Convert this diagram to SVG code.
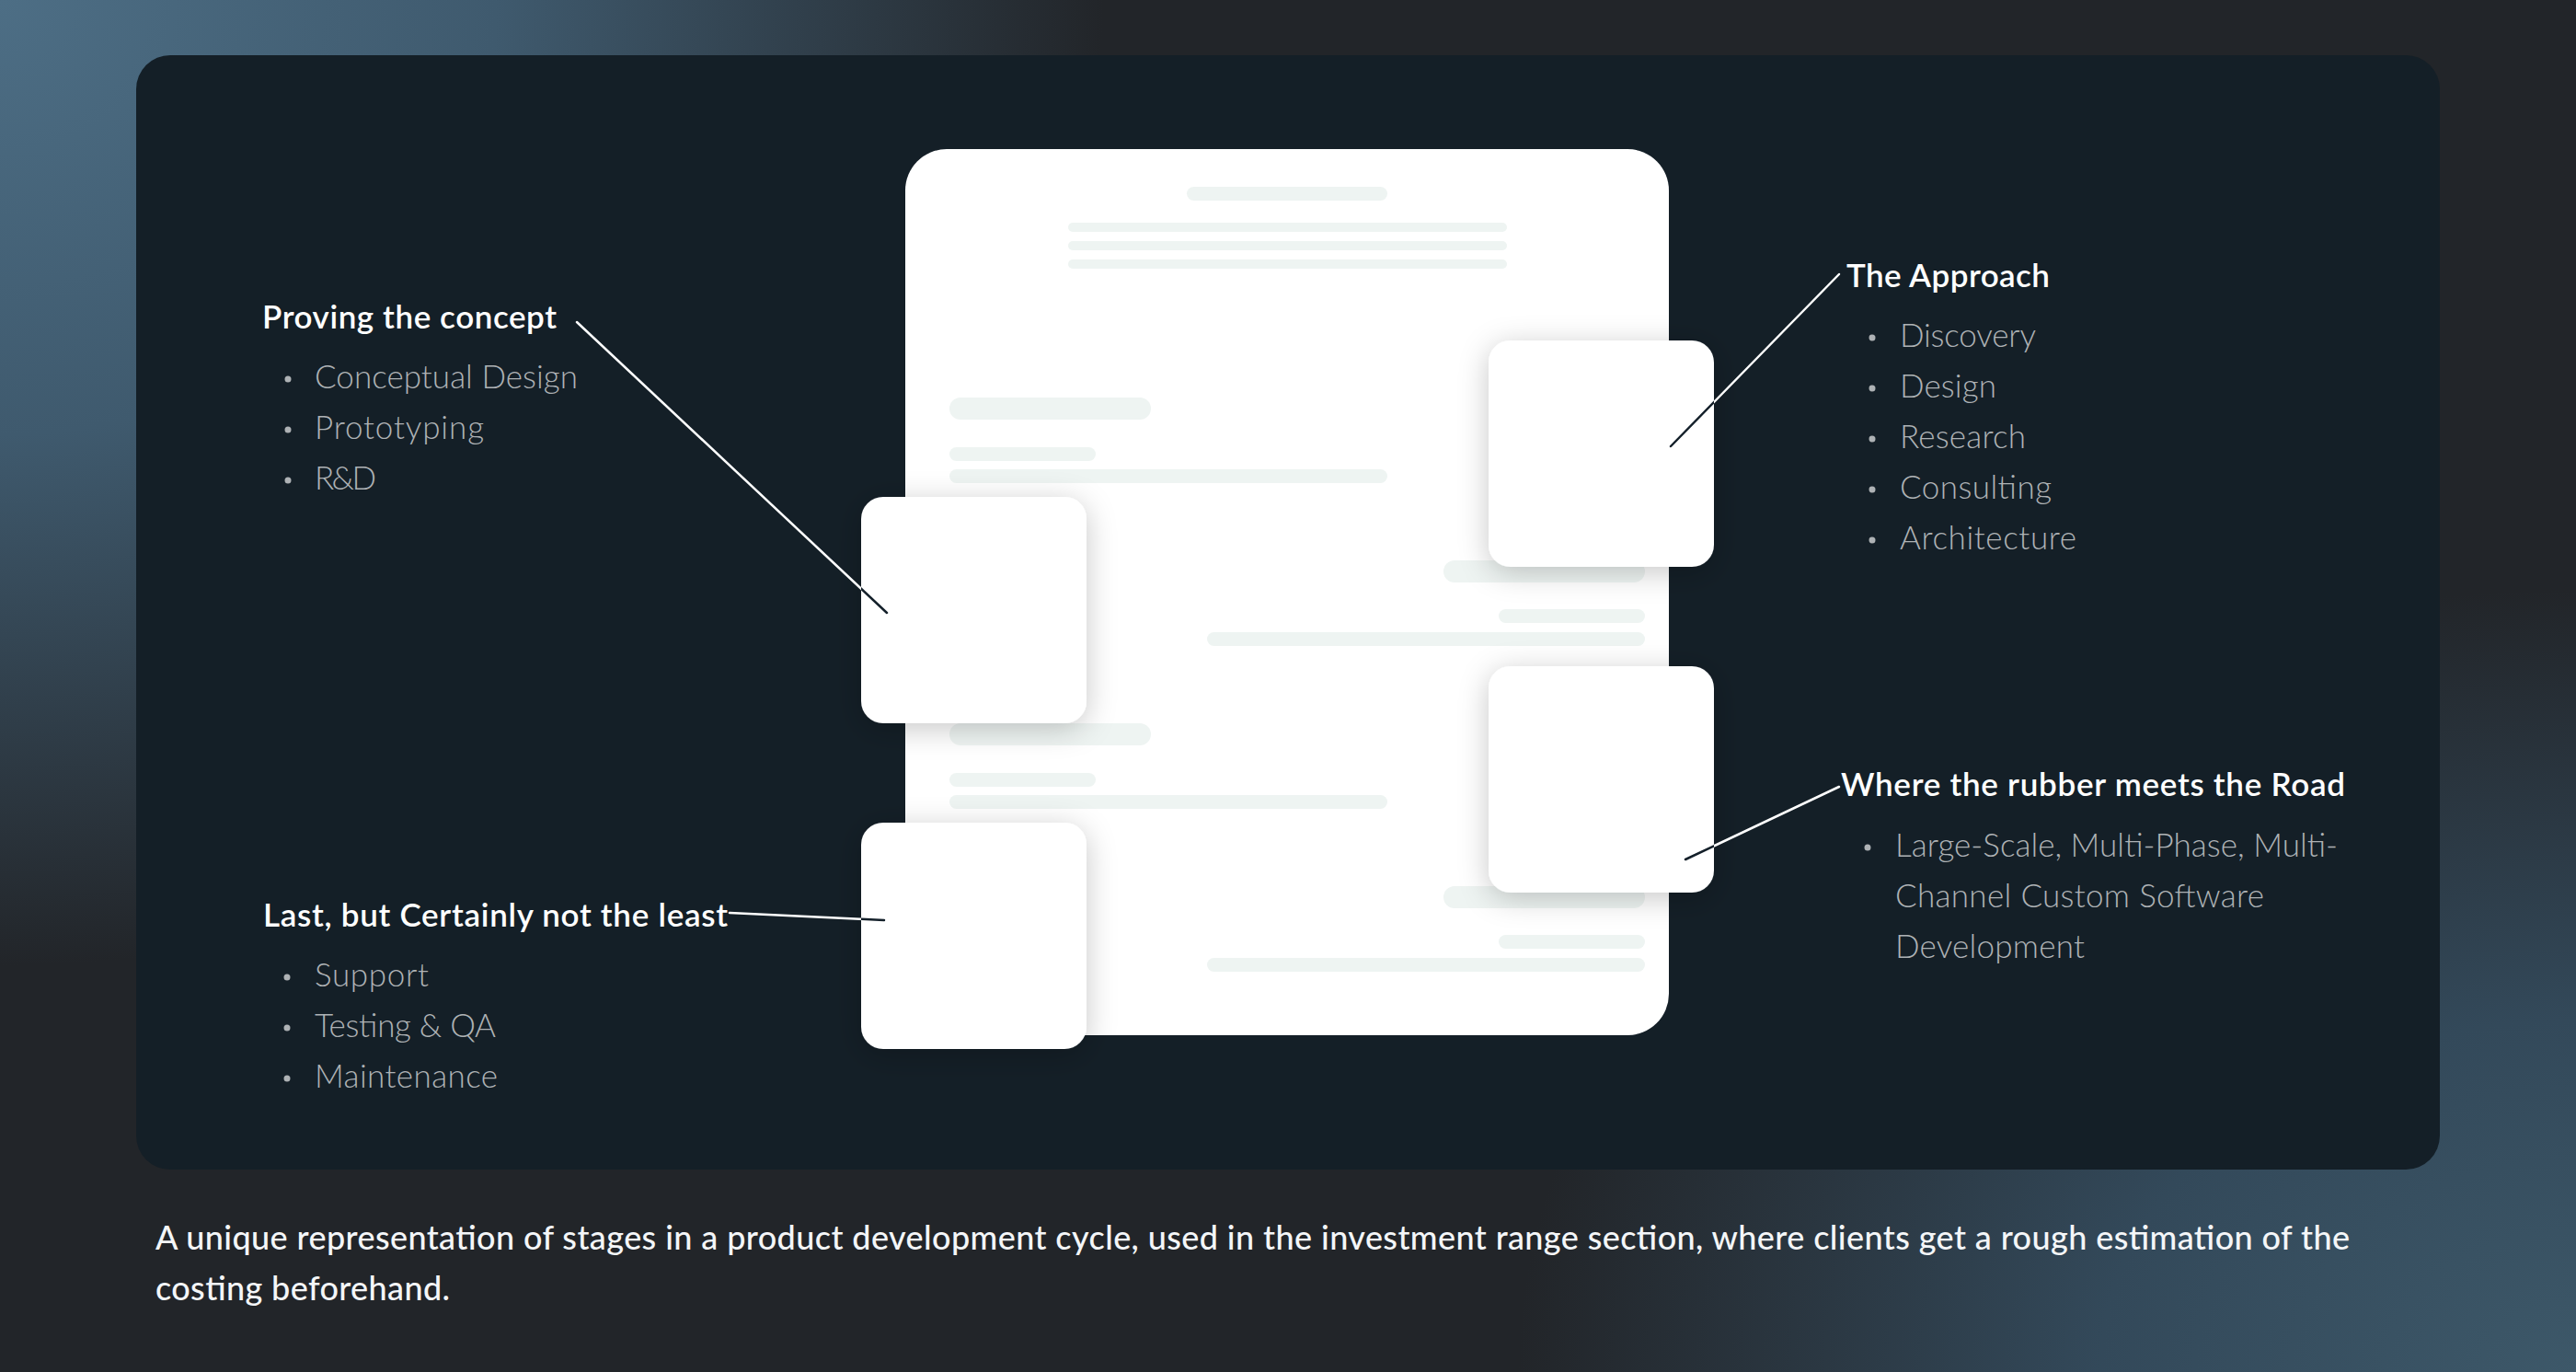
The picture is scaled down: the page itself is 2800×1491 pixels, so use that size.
<svg xmlns="http://www.w3.org/2000/svg" width="2800" height="1491" viewBox="0 0 2800 1491">
  <style>
    .head { font-family: Lato, "Open Sans", "Liberation Sans", sans-serif; font-size: 35px; font-weight: 600; fill: #ffffff; }
    .item { font-family: Lato, "Open Sans", "Liberation Sans", sans-serif; font-size: 35px; font-weight: 300; fill: #aeb2b5; }
    .dot { fill: #aeb2b5; }
    .caption { font-family: Lato, "Open Sans", "Liberation Sans", sans-serif; font-size: 36px; font-weight: 500; fill: #f4f6f8; }
    .bar { fill: #eef4f2; }
    .tile { fill: #ffffff; }
    .link { fill: none; stroke: #ffffff; stroke-width: 2.5; stroke-linecap: round; }
    .link-in { fill: none; stroke: #14202a; stroke-width: 2.5; stroke-linecap: round; }
  </style>
  <defs>
    <radialGradient id="glowTL" cx="0" cy="0" r="1" gradientUnits="userSpaceOnUse" gradientTransform="translate(0 0) scale(1200 1050)">
      <stop offset="0" stop-color="#4d6e85"/>
      <stop offset="0.45" stop-color="#3f5a6e"/>
      <stop offset="1" stop-color="#3f5a6e" stop-opacity="0"/>
    </radialGradient>
    <radialGradient id="glowBR" cx="0" cy="0" r="1" gradientUnits="userSpaceOnUse" gradientTransform="translate(2800 1491) scale(1150 850)">
      <stop offset="0" stop-color="#3d5869"/>
      <stop offset="0.45" stop-color="#33495a"/>
      <stop offset="1" stop-color="#33495a" stop-opacity="0"/>
    </radialGradient>
    <filter id="tileShadow" x="-40%" y="-40%" width="180%" height="180%">
      <feDropShadow dx="0" dy="6" stdDeviation="16" flood-color="#000000" flood-opacity="0.22"/>
    </filter>
    <clipPath id="tileClip">
      <rect x="936" y="540" width="245" height="246" rx="24"/>
      <rect x="936" y="894" width="245" height="246" rx="24"/>
      <rect x="1618" y="370" width="245" height="246" rx="24"/>
      <rect x="1618" y="724" width="245" height="246" rx="24"/>
    </clipPath>
  </defs>

  <!-- backdrop -->
  <rect x="0" y="0" width="2800" height="1491" fill="#222529"/>
  <rect x="0" y="0" width="2800" height="1491" fill="url(#glowTL)"/>
  <rect x="0" y="0" width="2800" height="1491" fill="url(#glowBR)"/>

  <!-- dark panel -->
  <rect x="148" y="60" width="2504" height="1211" rx="37" fill="#141f27"/>

  <!-- document sheet with placeholder lines -->
  <g id="document">
    <rect x="984" y="162" width="830" height="963" rx="45" fill="#ffffff"/>
    <rect class="bar" x="1290" y="203" width="218" height="15" rx="7.5"/>
    <rect class="bar" x="1161" y="242" width="477" height="10" rx="5"/>
    <rect class="bar" x="1161" y="262" width="477" height="10" rx="5"/>
    <rect class="bar" x="1161" y="282" width="477" height="10" rx="5"/>
    <g id="section-a">
      <rect class="bar" x="1032" y="432" width="219" height="24" rx="12"/>
      <rect class="bar" x="1032" y="486" width="159" height="15" rx="7.5"/>
      <rect class="bar" x="1032" y="510" width="476" height="15" rx="7.5"/>
      <rect class="bar" x="1569" y="609" width="219" height="24" rx="12"/>
      <rect class="bar" x="1629" y="662" width="159" height="15" rx="7.5"/>
      <rect class="bar" x="1312" y="687" width="476" height="15" rx="7.5"/>
    </g>
    <g id="section-b" transform="translate(0 354)">
      <rect class="bar" x="1032" y="432" width="219" height="24" rx="12"/>
      <rect class="bar" x="1032" y="486" width="159" height="15" rx="7.5"/>
      <rect class="bar" x="1032" y="510" width="476" height="15" rx="7.5"/>
      <rect class="bar" x="1569" y="609" width="219" height="24" rx="12"/>
      <rect class="bar" x="1629" y="662" width="159" height="15" rx="7.5"/>
      <rect class="bar" x="1312" y="687" width="476" height="15" rx="7.5"/>
    </g>
  </g>

  <!-- stage tiles -->
  <g id="tile-concept"><rect class="tile" x="936" y="540" width="245" height="246" rx="24" filter="url(#tileShadow)"/></g>
  <g id="tile-support"><rect class="tile" x="936" y="894" width="245" height="246" rx="24" filter="url(#tileShadow)"/></g>
  <g id="tile-approach"><rect class="tile" x="1618" y="370" width="245" height="246" rx="24" filter="url(#tileShadow)"/></g>
  <g id="tile-road"><rect class="tile" x="1618" y="724" width="245" height="246" rx="24" filter="url(#tileShadow)"/></g>

  <!-- leader lines: light over the panel, dark where they cross a tile -->
  <g id="connectors">
    <line class="link" x1="627" y1="350" x2="964" y2="666"/>
    <line class="link" x1="1999" y1="298" x2="1816" y2="485"/>
    <line class="link" x1="1999" y1="855" x2="1832" y2="934"/>
    <line class="link" x1="793" y1="992" x2="961" y2="1000"/>
    <g clip-path="url(#tileClip)">
      <line class="link-in" x1="627" y1="350" x2="964" y2="666"/>
      <line class="link-in" x1="1999" y1="298" x2="1816" y2="485"/>
      <line class="link-in" x1="1999" y1="855" x2="1832" y2="934"/>
      <line class="link-in" x1="793" y1="992" x2="961" y2="1000"/>
    </g>
  </g>

  <!-- stage labels -->
  <g id="stage-concept">
    <text class="head" x="285" y="357" textLength="320" lengthAdjust="spacing">Proving the concept</text>
    <circle class="dot" cx="313" cy="412" r="3.5"/>
    <text class="item" x="342" y="422" textLength="286" lengthAdjust="spacing">Conceptual Design</text>
    <circle class="dot" cx="313" cy="467" r="3.5"/>
    <text class="item" x="342" y="477" textLength="184" lengthAdjust="spacing">Prototyping</text>
    <circle class="dot" cx="313" cy="522" r="3.5"/>
    <text class="item" x="342" y="532" textLength="67" lengthAdjust="spacing">R&amp;D</text>
  </g>

  <g id="stage-approach">
    <text class="head" x="2007" y="312" textLength="221" lengthAdjust="spacing">The Approach</text>
    <circle class="dot" cx="2035" cy="367" r="3.5"/>
    <text class="item" x="2065" y="377" textLength="148" lengthAdjust="spacing">Discovery</text>
    <circle class="dot" cx="2035" cy="422" r="3.5"/>
    <text class="item" x="2065" y="432" textLength="105" lengthAdjust="spacing">Design</text>
    <circle class="dot" cx="2035" cy="477" r="3.5"/>
    <text class="item" x="2065" y="487" textLength="137" lengthAdjust="spacing">Research</text>
    <circle class="dot" cx="2035" cy="532" r="3.5"/>
    <text class="item" x="2065" y="542" textLength="165" lengthAdjust="spacing">Consulting</text>
    <circle class="dot" cx="2035" cy="587" r="3.5"/>
    <text class="item" x="2065" y="597" textLength="192" lengthAdjust="spacing">Architecture</text>
  </g>

  <g id="stage-road">
    <text class="head" x="2001" y="865" textLength="548" lengthAdjust="spacing">Where the rubber meets the Road</text>
    <circle class="dot" cx="2030" cy="921" r="3.5"/>
    <text class="item" x="2060" y="931" textLength="481" lengthAdjust="spacing">Large-Scale, Multi-Phase, Multi-</text>
    <text class="item" x="2060" y="986" textLength="401" lengthAdjust="spacing">Channel Custom Software</text>
    <text class="item" x="2060" y="1041" textLength="206" lengthAdjust="spacing">Development</text>
  </g>

  <g id="stage-support">
    <text class="head" x="286" y="1007" textLength="505" lengthAdjust="spacing">Last, but Certainly not the least</text>
    <circle class="dot" cx="312" cy="1062" r="3.5"/>
    <text class="item" x="342" y="1072" textLength="124" lengthAdjust="spacing">Support</text>
    <circle class="dot" cx="312" cy="1117" r="3.5"/>
    <text class="item" x="342" y="1127" textLength="197" lengthAdjust="spacing">Testing &amp; QA</text>
    <circle class="dot" cx="312" cy="1172" r="3.5"/>
    <text class="item" x="342" y="1182" textLength="199" lengthAdjust="spacing">Maintenance</text>
  </g>

  <!-- caption -->
  <g id="caption">
    <text class="caption" x="169" y="1358" textLength="2385" lengthAdjust="spacing">A unique representation of stages in a product development cycle, used in the investment range section, where clients get a rough estimation of the</text>
    <text class="caption" x="169" y="1413" textLength="320" lengthAdjust="spacing">costing beforehand.</text>
  </g>
</svg>
